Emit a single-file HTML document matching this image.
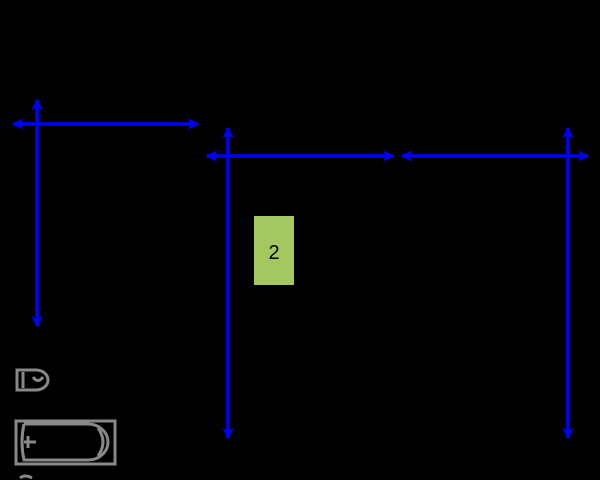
<!DOCTYPE html>
<html><head><style>html,body{margin:0;padding:0;background:#000;width:600px;height:480px;overflow:hidden}</style></head>
<body>
<svg width="600" height="480" xmlns="http://www.w3.org/2000/svg">
<defs>
<marker id="a" viewBox="0 0 10 10" refX="9" refY="5" markerWidth="4" markerHeight="3.2" orient="auto-start-reverse" markerUnits="strokeWidth">
<path d="M0,0 L10,5 L0,10 L2.5,5 Z" fill="#0000ff"/></marker>
</defs>
<g stroke="#0000ff" stroke-width="3.5" fill="none" marker-start="url(#a)" marker-end="url(#a)">
<line x1="13" y1="124" x2="198" y2="124"/>
<line x1="37" y1="100" x2="37" y2="326"/>
<line x1="207" y1="156" x2="393" y2="156"/>
<line x1="228" y1="128" x2="228" y2="438"/>
<line x1="402" y1="156" x2="588" y2="156"/>
<line x1="568" y1="128" x2="568" y2="438"/>
</g>
<rect x="254" y="216" width="40" height="69" fill="#a4c760"/>
<text x="274" y="259" font-family="Liberation Sans, sans-serif" font-size="20" text-anchor="middle" fill="#000">2</text>
<g stroke="#888" stroke-width="3" fill="none">
<path d="M17,370 L36,370 A12,10 0 0 1 36,390 L17,390 Z"/>
<path d="M23,372 L23,388"/>
<path d="M33,377 Q38,384 43,377"/>
<rect x="16" y="421" width="99" height="43"/>
<path d="M24,424 L88,424 A20,18 0 0 1 88,460 L24,460 Q20,442 24,424"/>
<path d="M98,428 Q108,442 98,456"/>
<path d="M24,442 L36,442 M28,436 L28,448"/>
<path d="M20,478 Q25,474 32,478"/>
</g>
</svg>
</body></html>
